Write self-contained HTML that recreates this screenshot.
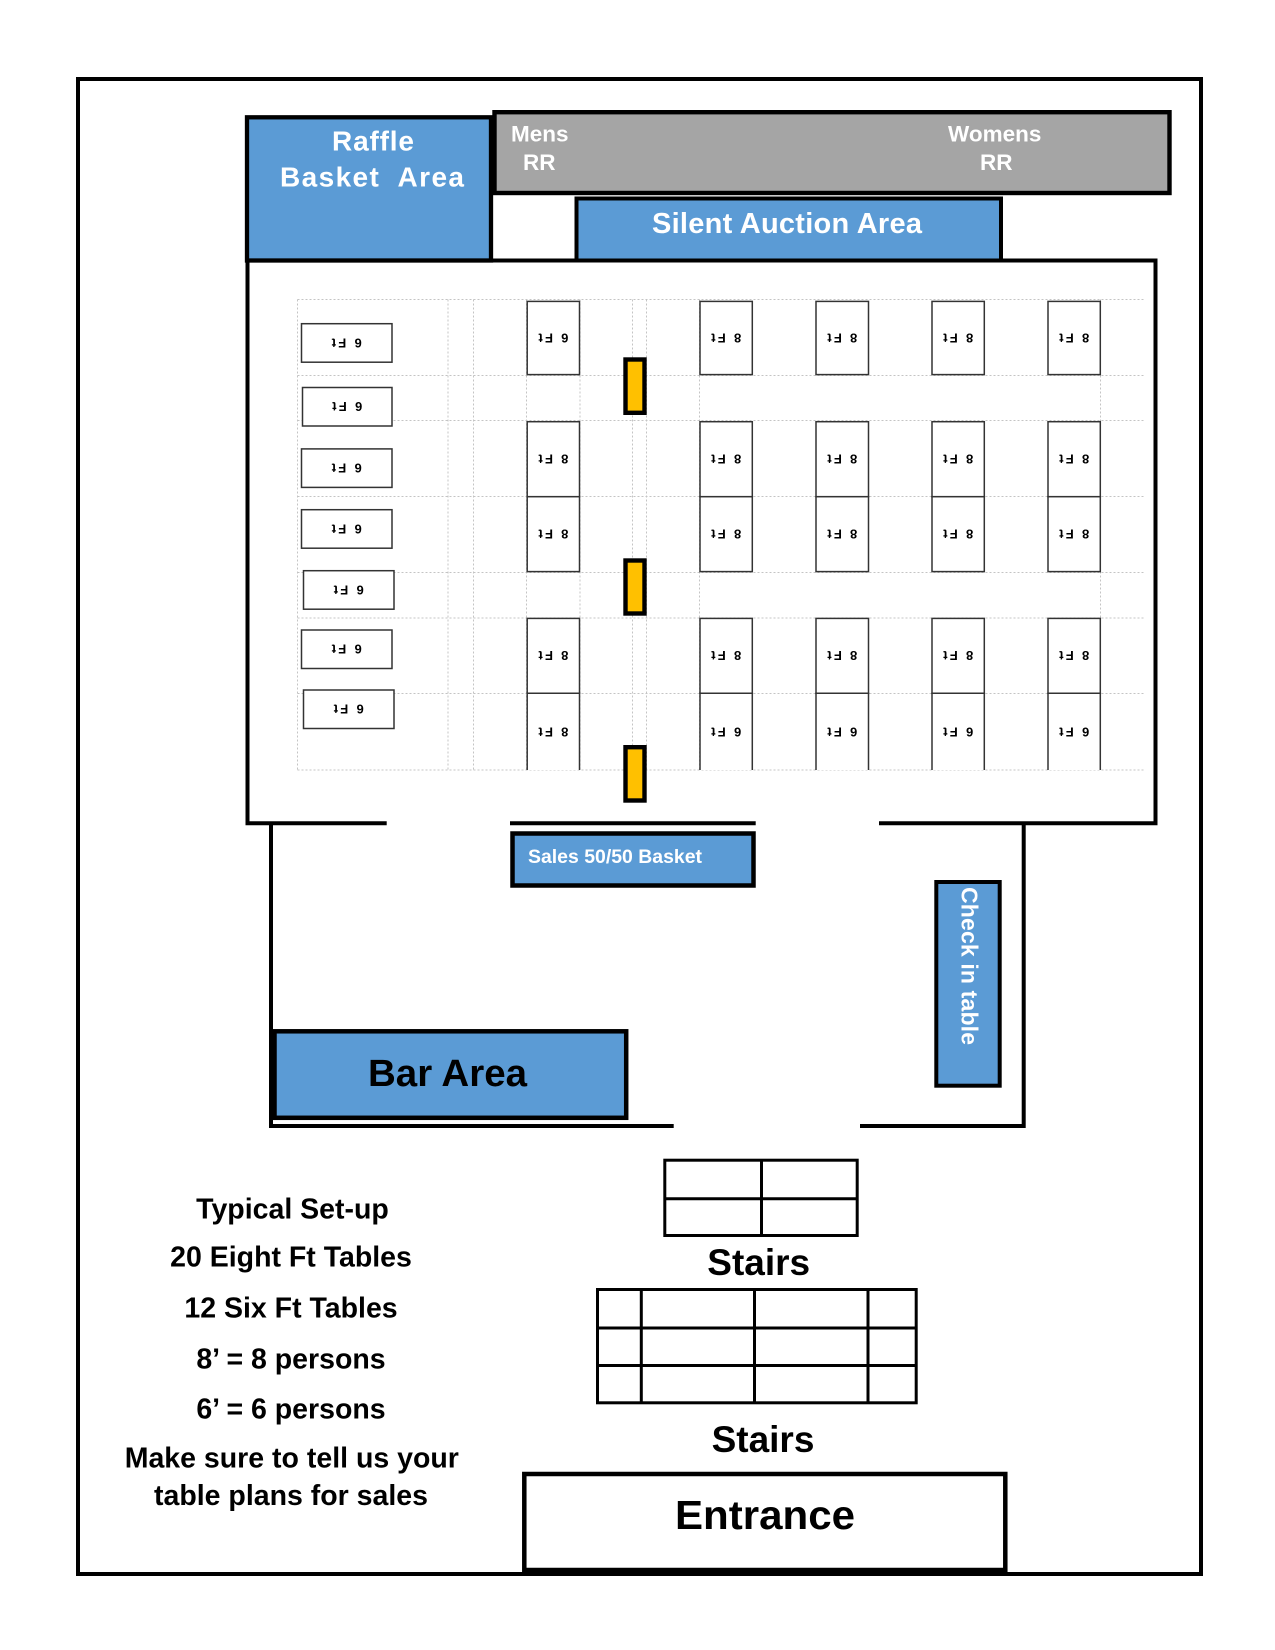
<!DOCTYPE html>
<html>
<head>
<meta charset="utf-8">
<style>
  html, body { margin: 0; padding: 0; background: #fff; }
  svg { display: block; }
  text { font-family: "Liberation Sans", Arial, sans-serif; font-weight: bold; }
</style>
</head>
<body>
<svg width="1275" height="1650" viewBox="0 0 1275 1650" xmlns="http://www.w3.org/2000/svg">
  <rect x="0" y="0" width="1275" height="1650" fill="#ffffff"/>

  <!-- Outer border -->
  <rect x="78" y="79" width="1123" height="1495" fill="none" stroke="#000" stroke-width="4"/>

  <!-- Dotted grid -->
  <g stroke="#c4c4c4" stroke-width="1" stroke-dasharray="2 2" fill="none">
    <line x1="297.5" y1="299.5" x2="1145" y2="299.5"/>
    <line x1="297.5" y1="375.5" x2="1145" y2="375.5"/>
    <line x1="297.5" y1="420.5" x2="1145" y2="420.5"/>
    <line x1="297.5" y1="496.5" x2="1145" y2="496.5"/>
    <line x1="297.5" y1="572.5" x2="1145" y2="572.5"/>
    <line x1="297.5" y1="618" x2="1145" y2="618"/>
    <line x1="297.5" y1="693.5" x2="1145" y2="693.5"/>
    <line x1="297.5" y1="770" x2="1145" y2="770"/>
    <line x1="297.5" y1="299.5" x2="297.5" y2="770"/>
    <line x1="448" y1="299.5" x2="448" y2="770"/>
    <line x1="473.5" y1="299.5" x2="473.5" y2="770"/>
    <line x1="526.5" y1="299.5" x2="526.5" y2="770"/>
    <line x1="580" y1="299.5" x2="580" y2="770"/>
    <line x1="632.5" y1="299.5" x2="632.5" y2="770"/>
    <line x1="646.5" y1="299.5" x2="646.5" y2="770"/>
    <line x1="699.5" y1="299.5" x2="699.5" y2="770"/>
    <line x1="1100.5" y1="299.5" x2="1100.5" y2="770"/>
  </g>

  <!-- Left 6 ft tables -->
  <g fill="#fff" stroke="#333" stroke-width="1.5">
    <rect x="301.5" y="323.7" width="90.5" height="38.5"/>
    <rect x="302.5" y="387.5" width="89.5" height="38.5"/>
    <rect x="301.5" y="448.9" width="90.5" height="38.5"/>
    <rect x="301.5" y="509.7" width="90.5" height="38.5"/>
    <rect x="303.5" y="570.7" width="90.5" height="38.5"/>
    <rect x="301.5" y="630" width="90.5" height="38.5"/>
    <rect x="303.5" y="690" width="90.5" height="38.5"/>
  </g>
  <g font-size="13" fill="#000" text-anchor="middle">
    <text x="346.7" y="347.6" transform="rotate(180 346.7 343)" textLength="30" lengthAdjust="spacing">6 Ft</text>
    <text x="347.2" y="411.4" transform="rotate(180 347.2 406.8)" textLength="30" lengthAdjust="spacing">6 Ft</text>
    <text x="346.7" y="472.8" transform="rotate(180 346.7 468.2)" textLength="30" lengthAdjust="spacing">6 Ft</text>
    <text x="346.7" y="533.6" transform="rotate(180 346.7 529)" textLength="30" lengthAdjust="spacing">6 Ft</text>
    <text x="348.7" y="594.6" transform="rotate(180 348.7 590)" textLength="30" lengthAdjust="spacing">6 Ft</text>
    <text x="346.7" y="653.9" transform="rotate(180 346.7 649.3)" textLength="30" lengthAdjust="spacing">6 Ft</text>
    <text x="348.7" y="713.9" transform="rotate(180 348.7 709.3)" textLength="30" lengthAdjust="spacing">6 Ft</text>
  </g>

  <!-- 8 ft table columns -->
  <g fill="#fff" stroke="#333" stroke-width="1.5">
    <rect x="527.2" y="301.4" width="52.3" height="73.2"/>
    <rect x="527.2" y="421.7" width="52.3" height="75"/>
    <rect x="527.2" y="496.7" width="52.3" height="74.9"/>
    <rect x="527.2" y="618.4" width="52.3" height="74.9"/>
    <path d="M527.2 770 V693.3 H579.5 V770"/>
    <rect x="700" y="301.4" width="52.3" height="73.2"/>
    <rect x="700" y="421.7" width="52.3" height="75"/>
    <rect x="700" y="496.7" width="52.3" height="74.9"/>
    <rect x="700" y="618.4" width="52.3" height="74.9"/>
    <path d="M700 770 V693.3 H752.3 V770"/>
    <rect x="816" y="301.4" width="52.5" height="73.2"/>
    <rect x="816" y="421.7" width="52.5" height="75"/>
    <rect x="816" y="496.7" width="52.5" height="74.9"/>
    <rect x="816" y="618.4" width="52.5" height="74.9"/>
    <path d="M816 770 V693.3 H868.5 V770"/>
    <rect x="932" y="301.4" width="52.3" height="73.2"/>
    <rect x="932" y="421.7" width="52.3" height="75"/>
    <rect x="932" y="496.7" width="52.3" height="74.9"/>
    <rect x="932" y="618.4" width="52.3" height="74.9"/>
    <path d="M932 770 V693.3 H984.3 V770"/>
    <rect x="1048" y="301.4" width="52.3" height="73.2"/>
    <rect x="1048" y="421.7" width="52.3" height="75"/>
    <rect x="1048" y="496.7" width="52.3" height="74.9"/>
    <rect x="1048" y="618.4" width="52.3" height="74.9"/>
    <path d="M1048 770 V693.3 H1100.3 V770"/>
  </g>
  <g font-size="13" fill="#000" text-anchor="middle">
    <text x="553.4" y="342.6" transform="rotate(180 553.4 338)" textLength="30" lengthAdjust="spacing">6 Ft</text>
    <text x="553.4" y="463.8" transform="rotate(180 553.4 459.2)" textLength="30" lengthAdjust="spacing">8 Ft</text>
    <text x="553.4" y="538.8" transform="rotate(180 553.4 534.2)" textLength="30" lengthAdjust="spacing">8 Ft</text>
    <text x="553.4" y="660.4" transform="rotate(180 553.4 655.8)" textLength="30" lengthAdjust="spacing">8 Ft</text>
    <text x="553.4" y="736.8" transform="rotate(180 553.4 732.2)" textLength="30" lengthAdjust="spacing">8 Ft</text>
    <text x="726.2" y="342.6" transform="rotate(180 726.2 338)" textLength="30" lengthAdjust="spacing">8 Ft</text>
    <text x="726.2" y="463.8" transform="rotate(180 726.2 459.2)" textLength="30" lengthAdjust="spacing">8 Ft</text>
    <text x="726.2" y="538.8" transform="rotate(180 726.2 534.2)" textLength="30" lengthAdjust="spacing">8 Ft</text>
    <text x="726.2" y="660.4" transform="rotate(180 726.2 655.8)" textLength="30" lengthAdjust="spacing">8 Ft</text>
    <text x="726.2" y="736.8" transform="rotate(180 726.2 732.2)" textLength="30" lengthAdjust="spacing">6 Ft</text>
    <text x="842.3" y="342.6" transform="rotate(180 842.3 338)" textLength="30" lengthAdjust="spacing">8 Ft</text>
    <text x="842.3" y="463.8" transform="rotate(180 842.3 459.2)" textLength="30" lengthAdjust="spacing">8 Ft</text>
    <text x="842.3" y="538.8" transform="rotate(180 842.3 534.2)" textLength="30" lengthAdjust="spacing">8 Ft</text>
    <text x="842.3" y="660.4" transform="rotate(180 842.3 655.8)" textLength="30" lengthAdjust="spacing">8 Ft</text>
    <text x="842.3" y="736.8" transform="rotate(180 842.3 732.2)" textLength="30" lengthAdjust="spacing">6 Ft</text>
    <text x="958.2" y="342.6" transform="rotate(180 958.2 338)" textLength="30" lengthAdjust="spacing">8 Ft</text>
    <text x="958.2" y="463.8" transform="rotate(180 958.2 459.2)" textLength="30" lengthAdjust="spacing">8 Ft</text>
    <text x="958.2" y="538.8" transform="rotate(180 958.2 534.2)" textLength="30" lengthAdjust="spacing">8 Ft</text>
    <text x="958.2" y="660.4" transform="rotate(180 958.2 655.8)" textLength="30" lengthAdjust="spacing">8 Ft</text>
    <text x="958.2" y="736.8" transform="rotate(180 958.2 732.2)" textLength="30" lengthAdjust="spacing">6 Ft</text>
    <text x="1074.2" y="342.6" transform="rotate(180 1074.2 338)" textLength="30" lengthAdjust="spacing">8 Ft</text>
    <text x="1074.2" y="463.8" transform="rotate(180 1074.2 459.2)" textLength="30" lengthAdjust="spacing">8 Ft</text>
    <text x="1074.2" y="538.8" transform="rotate(180 1074.2 534.2)" textLength="30" lengthAdjust="spacing">8 Ft</text>
    <text x="1074.2" y="660.4" transform="rotate(180 1074.2 655.8)" textLength="30" lengthAdjust="spacing">8 Ft</text>
    <text x="1074.2" y="736.8" transform="rotate(180 1074.2 732.2)" textLength="30" lengthAdjust="spacing">6 Ft</text>
  </g>

  <!-- Yellow markers -->
  <g fill="#FFC000" stroke="#000" stroke-width="4.4">
    <rect x="625.5" y="359.5" width="19" height="53.3"/>
    <rect x="625.5" y="560.5" width="19" height="53"/>
    <rect x="625.5" y="747.2" width="19" height="53.3"/>
  </g>

  <!-- Main room walls -->
  <g fill="none" stroke="#000" stroke-width="4">
    <path d="M386.7 823.3 H247.5 V260.5 H1155.5 V823.3 H879"/>
    <path d="M510 823.3 H755.7"/>
    <path d="M271 823.3 V1126 H673.7"/>
    <path d="M860 1126 H1023.7 V823.3"/>
  </g>

  <!-- Raffle Basket Area -->
  <rect x="247" y="117.3" width="244" height="143.2" fill="#5B9BD5" stroke="#000" stroke-width="4.3"/>
  <text x="373" y="150.7" font-size="28" fill="#fff" text-anchor="middle" textLength="82" lengthAdjust="spacing">Raffle</text>
  <text x="372" y="186.7" font-size="28" fill="#fff" text-anchor="middle" textLength="184" lengthAdjust="spacing" xml:space="preserve">Basket  Area</text>

  <!-- Restrooms -->
  <rect x="494.5" y="112.2" width="675" height="80.8" fill="#A5A5A5" stroke="#000" stroke-width="4.4"/>
  <text x="511" y="141.6" font-size="22.5" fill="#fff">Mens</text>
  <text x="523" y="170" font-size="22.5" fill="#fff">RR</text>
  <text x="948" y="141.6" font-size="22.5" fill="#fff">Womens</text>
  <text x="980" y="170" font-size="22.5" fill="#fff">RR</text>

  <!-- Silent Auction Area -->
  <rect x="576.5" y="198.5" width="424.5" height="62" fill="#5B9BD5" stroke="#000" stroke-width="4"/>
  <text x="787" y="233" font-size="29" fill="#fff" text-anchor="middle" textLength="270" lengthAdjust="spacing">Silent Auction Area</text>

  <!-- Sales 50/50 Basket -->
  <rect x="512.5" y="833.5" width="241" height="52" fill="#5B9BD5" stroke="#000" stroke-width="4.5"/>
  <text x="528" y="863" font-size="19.5" fill="#fff" textLength="174" lengthAdjust="spacingAndGlyphs">Sales 50/50 Basket</text>

  <!-- Check in table -->
  <rect x="936.3" y="882" width="63.4" height="203.7" fill="#5B9BD5" stroke="#000" stroke-width="4"/>
  <text x="961.5" y="887" font-size="23" fill="#fff" transform="rotate(90 961.5 887)" textLength="158" lengthAdjust="spacing">Check in table</text>

  <!-- Bar Area -->
  <rect x="274.5" y="1031.3" width="351.7" height="86.5" fill="#5B9BD5" stroke="#000" stroke-width="4.5"/>
  <text x="447.5" y="1086" font-size="38" fill="#000" text-anchor="middle" textLength="159" lengthAdjust="spacingAndGlyphs">Bar Area</text>

  <!-- Stairs upper -->
  <g fill="none" stroke="#000" stroke-width="3">
    <rect x="664.8" y="1160.2" width="192.4" height="75.3"/>
    <line x1="761.5" y1="1160.2" x2="761.5" y2="1235.5"/>
    <line x1="664.8" y1="1198.7" x2="857.2" y2="1198.7"/>
  </g>
  <text x="758.7" y="1275" font-size="37" fill="#000" text-anchor="middle">Stairs</text>

  <!-- Stairs lower -->
  <g fill="none" stroke="#000" stroke-width="3">
    <rect x="597.5" y="1289.5" width="318.7" height="113.3"/>
    <line x1="641.3" y1="1289.5" x2="641.3" y2="1402.8"/>
    <line x1="754.5" y1="1289.5" x2="754.5" y2="1402.8"/>
    <line x1="868" y1="1289.5" x2="868" y2="1402.8"/>
    <line x1="597.5" y1="1328" x2="916.2" y2="1328"/>
    <line x1="597.5" y1="1365.5" x2="916.2" y2="1365.5"/>
  </g>
  <text x="763" y="1452" font-size="37" fill="#000" text-anchor="middle">Stairs</text>

  <!-- Entrance -->
  <rect x="524.3" y="1474" width="481" height="96" fill="#fff" stroke="#000" stroke-width="4.5"/>
  <line x1="78" y1="1574" x2="1201" y2="1574" stroke="#000" stroke-width="4"/>
  <text x="765" y="1529" font-size="41" fill="#000" text-anchor="middle" textLength="180" lengthAdjust="spacingAndGlyphs">Entrance</text>

  <!-- Notes -->
  <g font-size="28.5" fill="#000" text-anchor="middle">
    <text x="292.5" y="1218.3">Typical Set-up</text>
    <text x="291" y="1266.7">20 Eight Ft Tables</text>
    <text x="291" y="1317.7">12 Six Ft Tables</text>
    <text x="291" y="1368.3">8’ = 8 persons</text>
    <text x="291" y="1418.3">6’ = 6 persons</text>
    <text x="291.8" y="1467.7">Make sure to tell us your</text>
    <text x="291" y="1505">table plans for sales</text>
  </g>
</svg>
</body>
</html>
